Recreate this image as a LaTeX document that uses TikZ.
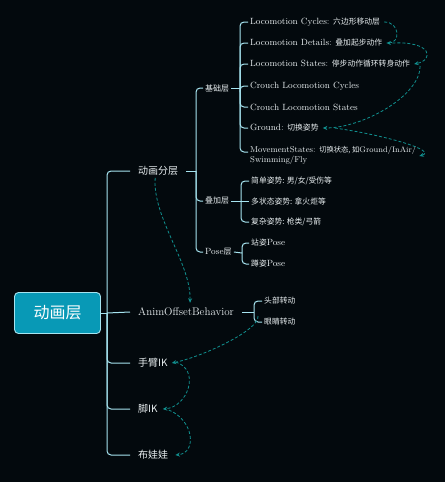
\documentclass[tikz,border=0pt]{standalone}
\usepackage{fontspec}
\newfontfamily\cjk{Noto Sans CJK SC}
\newcommand{\zhs}[1]{{\cjk #1}}
\newcommand{\ens}[1]{{\fontsize{9}{11}\selectfont #1}}
\usetikzlibrary{arrows.meta}
\definecolor{bgc}{HTML}{03090D}
\definecolor{brc}{HTML}{A6E4F0}
\definecolor{txc}{HTML}{E8EEF0}
\definecolor{relc}{HTML}{11908F}
\definecolor{rootc}{HTML}{0899B6}
\tikzset{
  br/.style={draw=brc, line width=1pt, rounded corners=4pt},
  rel/.style={draw=relc, line width=0.8pt, dash pattern=on 3pt off 2pt, -{Stealth[length=4.5pt,width=4pt]}},
  mainn/.style={anchor=west, text=txc, inner xsep=8pt, inner ysep=1pt, font=\fontsize{10}{12}\selectfont},
  secn/.style={anchor=west, text=txc, inner xsep=2pt, inner ysep=1pt, font=\fontsize{8}{10}\selectfont},
  leafn/.style={anchor=west, text=txc, inner xsep=2pt, inner ysep=1pt, font=\fontsize{7.8}{10}\selectfont},
}
\begin{document}
\begin{tikzpicture}[x=1pt,y=-1pt]
\fill[bgc] (0,0) rectangle (445,482);
\useasboundingbox (0,0) rectangle (445,482);
% root
\node[draw=brc, fill=rootc, line width=0.9pt, rounded corners=4pt, minimum width=86pt, minimum height=41pt, text=white, font=\cjk\fontsize{16}{18}\selectfont] (root) at (57.5,313) {动画层};
% main children
\node[mainn] (n1) at (130,171) {\zhs{动画分层}};
\node[mainn, font=\fontsize{11}{13}\selectfont] (n2) at (130,312) {AnimOffsetBehavior};
\node[mainn] (n3) at (130,363) {\zhs{手臂IK}};
\node[mainn] (n4) at (130,409) {\zhs{脚IK}};
\node[mainn] (n5) at (130,455) {\zhs{布娃娃}};
\coordinate (b0) at (107,313);
\draw[br] (root.east) -- (b0);
\draw[br] (n1.west) -| (b0);
\draw[br] (n2.west) -- (b0);
\draw[br] (n3.west) -| (b0);
\draw[br] (n4.west) -| (b0);
\draw[br] (n5.west) -| (b0);
% second level under 动画分层
\node[secn] (s1) at (203,88) {\zhs{基础层}};
\node[secn] (s2) at (203,201) {\zhs{叠加层}};
\node[secn] (s3) at (203,252) {\ens{Pose}\zhs{层}};
\coordinate (b1) at (196,171);
\draw[br] (n1.east) -- (b1);
\draw[br] (s1.west) -| (b1);
\draw[br] (s2.west) -| (b1);
\draw[br] (s3.west) -| (b1);
% 基础层 leaves
\node[leafn] (l1) at (248,22) {\ens{Locomotion Cycles:} \zhs{六边形移动层}};
\node[leafn] (l2) at (248,43) {\ens{Locomotion Details:} \zhs{叠加起步动作}};
\node[leafn] (l3) at (248,64) {\ens{Locomotion States:} \zhs{停步动作循环转身动作}};
\node[leafn] (l4) at (248,86) {\ens{Crouch Locomotion Cycles}};
\node[leafn] (l5) at (248,107) {\ens{Crouch Locomotion States}};
\node[leafn] (l6) at (248,128) {\ens{Ground:} \zhs{切换姿势}};
\node[leafn, align=left, font=\fontsize{7.3}{10}\selectfont] (l7) at (248,155) {{\fontsize{8.5}{10}\selectfont MovementStates:} \zhs{切换状态, 如}{\fontsize{8}{10}\selectfont Ground/InAir/}\\{\fontsize{8.5}{10}\selectfont Swimming/Fly}};
\coordinate (b11) at (240,88);
\draw[br] (s1.east) -- (b11);
\foreach \l in {l1,l2,l3,l4,l5,l6} {\draw[br] (\l.west) -| (b11);}
\draw[br] ([yshift=3pt]l7.west) -| (b11);
% 叠加层 leaves
\node[leafn] (m1) at (249,181) {\zhs{简单姿势: 男/女/受伤等}};
\node[leafn] (m2) at (249,201) {\zhs{多状态姿势: 拿火炬等}};
\node[leafn] (m3) at (249,222) {\zhs{复杂姿势: 枪类/弓箭}};
\coordinate (b2) at (241,201);
\draw[br] (s2.east) -- (b2);
\draw[br] (m1.west) -| (b2);
\draw[br] (m2.west) -- (b2);
\draw[br] (m3.west) -| (b2);
% Pose层 leaves
\node[leafn] (p1) at (249,243) {\zhs{站姿}\ens{Pose}};
\node[leafn] (p2) at (249,264) {\zhs{蹲姿}\ens{Pose}};
\coordinate (b3) at (242,253);
\draw[br] (s3.east) -- (b3);
\draw[br] (p1.west) -| (b3);
\draw[br] (p2.west) -| (b3);
% AnimOffsetBehavior leaves
\node[leafn] (a1) at (262,301) {\zhs{头部转动}};
\node[leafn] (a2) at (262,322) {\zhs{眼睛转动}};
\coordinate (b4) at (254,312);
\draw[br] (n2.east) -- (b4);
\draw[br] (a1.west) -| (b4);
\draw[br] (a2.west) -| (b4);
% relations
\draw[rel] ([xshift=2pt]l1.east) .. controls +(16,0) and +(14,0) .. ([xshift=2pt]l2.east);
\draw[rel] ([xshift=8pt]l2.east) .. controls +(40,-2) and +(20,-4) .. ([xshift=2pt]l3.east);
\draw[rel] ([xshift=8pt,yshift=-2pt]l3.east) .. controls +(0,30) and +(40,0) .. ([xshift=2pt]l6.east);
\draw[rel] ([xshift=14pt]l6.east) .. controls +(55,8) and +(18,-5) .. ([xshift=1pt,yshift=-1pt]l7.east);
\draw[rel] ([xshift=-3pt,yshift=-1pt]n1.south) .. controls +(-3,40) and +(1,-40) .. ([xshift=4pt,yshift=4pt]n2.north);
\draw[rel] ([xshift=-4pt,yshift=6pt]a2.west) .. controls +(2,14) and +(30,-6) .. ([xshift=-4pt]n3.east);
\draw[rel] ([xshift=0pt,yshift=1pt]n3.east) .. controls +(25,8) and +(25,-2) .. ([xshift=-3pt]n4.east);
\draw[rel] ([xshift=3pt,yshift=-1pt]n4.east) .. controls +(25,10) and +(22,-2) .. ([xshift=-1pt]n5.east);
\end{tikzpicture}
\end{document}
